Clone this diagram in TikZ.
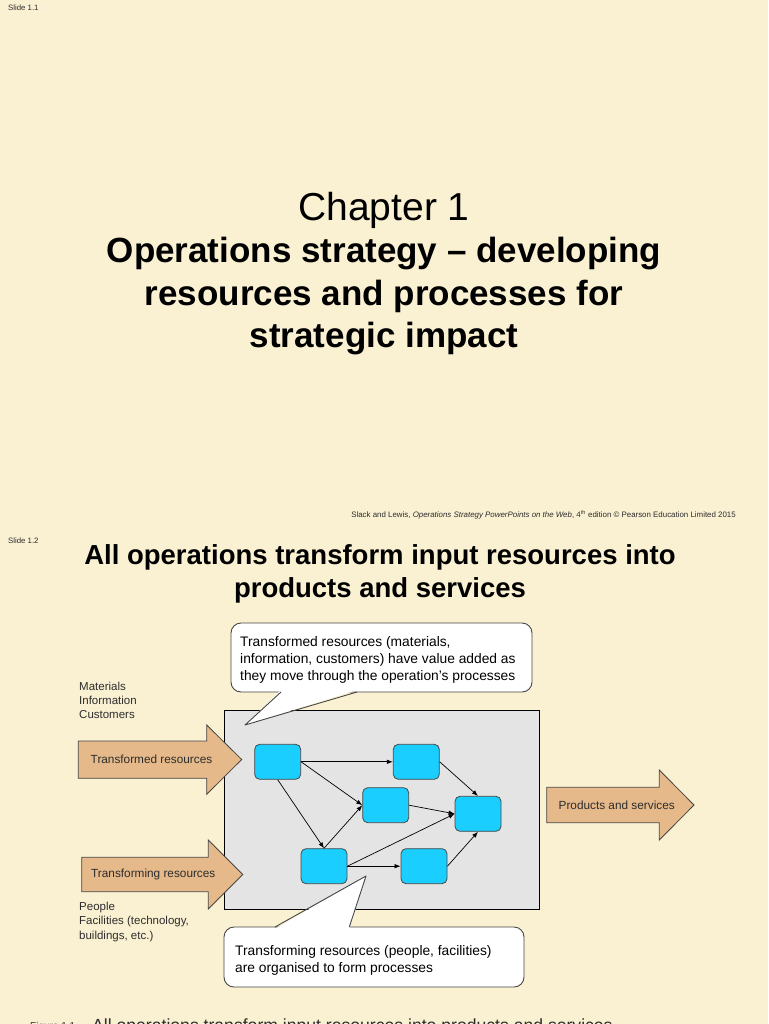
\documentclass[tikz,border=0pt]{standalone}
\usepackage{fontspec}
\setmainfont{Liberation Sans}
\usetikzlibrary{arrows.meta}
\definecolor{bg}{RGB}{250,240,210}
\definecolor{boxgray}{RGB}{228,228,228}
\definecolor{procblue}{RGB}{26,207,255}
\definecolor{tan}{RGB}{229,185,137}
\definecolor{edgegray}{RGB}{70,70,70}
\definecolor{txtgray}{RGB}{45,45,45}
\tikzset{
  txt/.style={inner sep=0pt, anchor=base west, text=txtgray},
  ctxt/.style={inner sep=0pt, anchor=base, text=black},
  proc/.style={draw=edgegray, line width=0.8pt, fill=procblue, rounded corners=5pt,
    minimum width=46pt, minimum height=35pt, inner sep=0pt},
  flow/.style={line width=0.7pt, -{Latex[length=6pt,width=4.5pt]}},
  bigarrow/.style={draw=edgegray, line width=0.8pt, fill=tan},
  bubble/.style={draw=edgegray, line width=0.9pt, fill=white, rounded corners=10pt},
}
\begin{document}
\begin{tikzpicture}[x=1pt,y=-1pt]
\useasboundingbox (0,0) rectangle (768,1024);
\clip (0,0) rectangle (768,1024);
\fill[bg] (0,0) rectangle (768,1024);

% ---------- Slide 1.1 ----------
\node[txt, font=\fontsize{7.8}{9}\selectfont] (s1) at (8,10.5) {Slide 1.1};
\node[ctxt, font=\fontsize{39}{44}\selectfont] (chap) at (384,220.3) {Chapter 1};
\node[ctxt, font=\fontsize{35}{42}\selectfont\bfseries] (t1) at (384,262.5) {Operations strategy – developing};
\node[ctxt, font=\fontsize{35}{42}\selectfont\bfseries] (t2) at (384,305) {resources and processes for};
\node[ctxt, font=\fontsize{35}{42}\selectfont\bfseries] (t3) at (384,347.5) {strategic impact};
\node[inner sep=0pt, anchor=base east, text=txtgray, font=\fontsize{7.9}{9}\selectfont] (foot) at (736,517)
  {Slack and Lewis, \textit{Operations Strategy PowerPoints on the Web}, 4\textsuperscript{th} edition \textcopyright{} Pearson Education Limited 2015};

% ---------- Slide 1.2 ----------
\node[txt, font=\fontsize{7.8}{9}\selectfont] (s2) at (8,543) {Slide 1.2};
\node[ctxt, font=\fontsize{27.5}{33}\selectfont\bfseries] (h1) at (380,564) {All operations transform input resources into};
\node[ctxt, font=\fontsize{27.5}{33}\selectfont\bfseries] (h2) at (380,597) {products and services};

% operation box
\draw[fill=boxgray, line width=0.9pt, draw=black] (224,710) rectangle (539,909);

% big arrows
\draw[bigarrow] (78.3,741)--(206.7,741)--(206.7,725)--(241.7,759.5)--(206.7,794.3)--(206.7,778.3)--(78.3,778.3)--cycle;
\node[ctxt, text=txtgray, font=\fontsize{11.8}{14}\selectfont] (ain) at (151.5,763.5) {Transformed resources};
\draw[bigarrow] (81.7,857.3)--(208.3,857.3)--(208.3,840)--(242.7,874.5)--(208.3,909)--(208.3,891.7)--(81.7,891.7)--cycle;
\node[ctxt, text=txtgray, font=\fontsize{11.8}{14}\selectfont] (atr) at (153.3,877.5) {Transforming resources};
\draw[bigarrow] (546.7,787.3)--(659.3,787.3)--(659.3,770)--(694,805)--(659.3,840)--(659.3,822.7)--(546.7,822.7)--cycle;
\node[ctxt, text=txtgray, font=\fontsize{11.8}{14}\selectfont] (aout) at (616.7,809.3) {Products and services};

% side labels
\node[txt, font=\fontsize{11.5}{14}\selectfont] (m1) at (79,690) {Materials};
\node[txt, font=\fontsize{11.5}{14}\selectfont] (m2) at (79,704) {Information};
\node[txt, font=\fontsize{11.5}{14}\selectfont] (m3) at (79,718) {Customers};
\node[txt, font=\fontsize{11.5}{14}\selectfont] (p1) at (79,910) {People};
\node[txt, font=\fontsize{11.5}{14}\selectfont] (p2) at (79,924.5) {Facilities (technology,};
\node[txt, font=\fontsize{11.5}{14}\selectfont] (p3) at (79,939) {buildings, etc.)};

% top callout
\draw[bubble] (231,623) rectangle (532,692);
\fill[white] (281,690)--(245,725)--(357,690)--cycle;
\draw[edgegray, line width=0.9pt, line join=round] (281,692)--(245,725)--(357,692);
\node[txt, text=black, font=\fontsize{13.8}{17}\selectfont] (c1) at (240,646.5) {Transformed resources (materials,};
\node[txt, text=black, font=\fontsize{13.8}{17}\selectfont] (c2) at (240,663.5) {information, customers) have value added as};
\node[txt, text=black, font=\fontsize{13.8}{17}\selectfont] (c3) at (240,680.5) {they move through the operation’s processes};

% bottom callout
\draw[bubble] (224,927) rectangle (524,987);
\fill[white] (275,929)--(366,876)--(349.3,929)--cycle;
\draw[edgegray, line width=0.9pt, line join=round] (275,927)--(366,876)--(349.3,927);
\node[txt, text=black, font=\fontsize{13.8}{17}\selectfont] (d1) at (235,955.5) {Transforming resources (people, facilities)};
\node[txt, text=black, font=\fontsize{13.8}{17}\selectfont] (d2) at (235,972.5) {are organised to form processes};

% process nodes
\node[proc] (A) at (277.7,761.8) {};
\node[proc] (B) at (416.3,761.8) {};
\node[proc] (C) at (385.7,805.2) {};
\node[proc] (D) at (478,813.8) {};
\node[proc] (E) at (324,866.2) {};
\node[proc] (F) at (424,866.2) {};

\draw[flow] (A.east) -- (B.west);
\draw[flow] (A.east) -- (C.west);
\draw[flow] (A.south) -- (E.north);
\draw[flow] (E.north) -- (C.west);
\draw[flow] (C.east) -- (D.west);
\draw[flow] (B.east) -- (D.north);
\draw[flow] (E.east) -- (D.west);
\draw[flow] (E.east) -- (F.west);
\draw[flow] (F.east) -- (D.south);

% caption (cut off at bottom edge, as in the reference)
\node[txt, font=\fontsize{10}{12}\selectfont] (figl) at (30,1029) {Figure 1.1};
\node[txt, font=\fontsize{17.6}{22}\selectfont] (figt) at (92,1031) {All operations transform input resources into products and services};
\end{tikzpicture}
\end{document}
